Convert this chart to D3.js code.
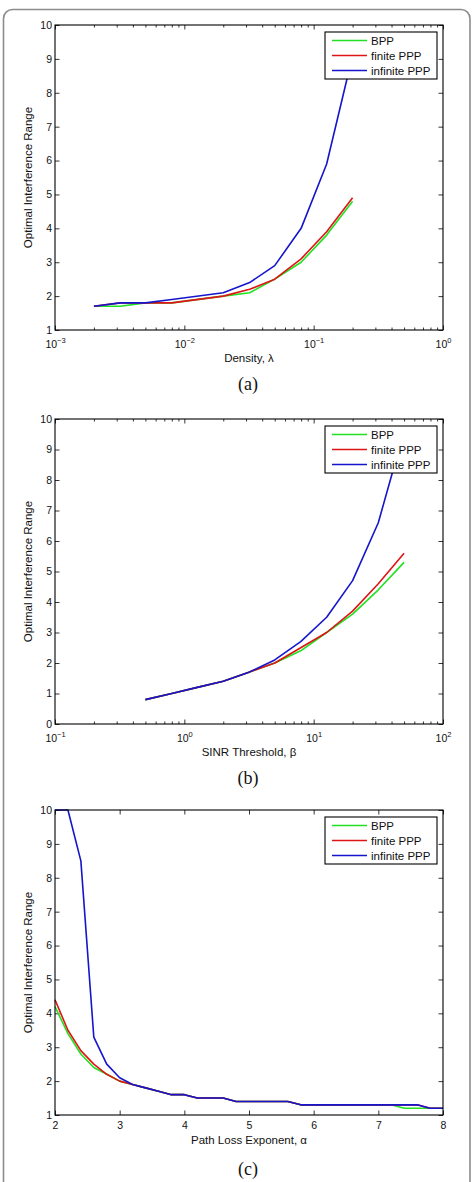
<!DOCTYPE html>
<html>
<head>
<meta charset="utf-8">
<script src="https://cdn.jsdelivr.net/npm/d3@7"></script>
<style>
  body { margin: 0; background: #ffffff; }
</style>
</head>
<body>
<script>
// series names and colours (shared by all three panels)
const seriesNames = ['BPP', 'finite PPP', 'infinite PPP'];
const seriesColors = ['#22e022', '#dd1515', '#1515cc'];

// (a) density sweep
const densityX = [0.002, 0.0032, 0.005, 0.008, 0.02, 0.032, 0.05, 0.08, 0.126, 0.2];
const densityBPP = [1.7, 1.7, 1.8, 1.8, 2.0, 2.1, 2.5, 3.0, 3.8, 4.8];
const densityFinite = [1.7, 1.8, 1.8, 1.8, 2.0, 2.2, 2.5, 3.1, 3.9, 4.9];
const densityInfinite = [1.7, 1.8, 1.8, 1.9, 2.1, 2.4, 2.9, 4.0, 5.9, 9.1];

// (b) SINR threshold sweep
const sinrX = [0.5, 0.8, 1.26, 2, 3.16, 5, 7.94, 12.6, 20, 31.6, 50];
const sinrBPP = [0.8, 1.0, 1.2, 1.4, 1.7, 2.0, 2.4, 3.0, 3.6, 4.4, 5.3];
const sinrFinite = [0.8, 1.0, 1.2, 1.4, 1.7, 2.0, 2.5, 3.0, 3.7, 4.6, 5.6];
const sinrInfinite = [0.8, 1.0, 1.2, 1.4, 1.7, 2.1, 2.7, 3.5, 4.7, 6.6, 9.6];

// (c) path loss exponent sweep
const pathX = [2.0, 2.2, 2.4, 2.6, 2.8, 3.0, 3.2, 3.4, 3.6, 3.8, 4.0, 4.2, 4.4, 4.6, 4.8, 5.0,
    5.2, 5.4, 5.6, 5.8, 6.0, 6.2, 6.4, 6.6, 6.8, 7.0, 7.2, 7.4, 7.6, 7.8, 8.0];
const pathBPP = [4.2, 3.4, 2.8, 2.4, 2.2, 2.0, 1.9, 1.8, 1.7, 1.6, 1.6, 1.5, 1.5, 1.5, 1.4, 1.4,
    1.4, 1.4, 1.4, 1.3, 1.3, 1.3, 1.3, 1.3, 1.3, 1.3, 1.3, 1.2, 1.2, 1.2, 1.2];
const pathFinite = [4.4, 3.5, 2.9, 2.5, 2.2, 2.0, 1.9, 1.8, 1.7, 1.6, 1.6, 1.5, 1.5, 1.5, 1.4, 1.4,
    1.4, 1.4, 1.4, 1.3, 1.3, 1.3, 1.3, 1.3, 1.3, 1.3, 1.3, 1.3, 1.3, 1.2, 1.2];
const pathInfinite = [10, 10, 8.5, 3.3, 2.5, 2.1, 1.9, 1.8, 1.7, 1.6, 1.6, 1.5, 1.5, 1.5, 1.4, 1.4,
    1.4, 1.4, 1.4, 1.3, 1.3, 1.3, 1.3, 1.3, 1.3, 1.3, 1.3, 1.3, 1.3, 1.2, 1.2];

const sansFont = '\'Liberation Sans\', Arial, sans-serif';
const serifFont = '\'Liberation Serif\', \'DejaVu Serif\', serif';

const svg = d3.select('body')
    .append('svg')
    .attr('width', 472)
    .attr('height', 1182)
    .style('display', 'block')
    .style('background-color', '#ffffff');

// outer rounded frame
svg.append('rect')
    .attr('x', 3.5)
    .attr('y', 9.5)
    .attr('width', 466.5)
    .attr('height', 1200)
    .attr('rx', 9)
    .attr('fill', 'none')
    .attr('stroke', '#8c8c8c')
    .attr('stroke-width', 1.6);

const left = 55, right = 443;

const panels = [
    {
        id: 'a', top: 25, bottom: 330, log: true,
        x: d3.scaleLog().domain([1e-3, 1]).range([left, right]),
        yDomain: [1, 10], yTicks: d3.range(1, 11),
        xs: densityX, ys: [densityBPP, densityFinite, densityInfinite],
        xLabel: 'Density, λ', xLabelGap: 32
    },
    {
        id: 'b', top: 419, bottom: 724, log: true,
        x: d3.scaleLog().domain([0.1, 100]).range([left, right]),
        yDomain: [0, 10], yTicks: d3.range(0, 11),
        xs: sinrX, ys: [sinrBPP, sinrFinite, sinrInfinite],
        xLabel: 'SINR Threshold, β', xLabelGap: 32
    },
    {
        id: 'c', top: 810, bottom: 1115, log: false,
        x: d3.scaleLinear().domain([2, 8]).range([left, right]),
        yDomain: [1, 10], yTicks: d3.range(1, 11),
        xs: pathX, ys: [pathBPP, pathFinite, pathInfinite],
        xLabel: 'Path Loss Exponent, α', xLabelGap: 29
    }
];

function styleAxis(a) {
    a.select('.domain').remove();
    a.selectAll('line')
        .attr('stroke', '#000000')
        .attr('stroke-width', 0.8);
    a.selectAll('text')
        .attr('font-family', sansFont)
        .attr('font-size', 10.5)
        .attr('fill', '#111111');
    return a;
}

panels.forEach(p => {
    const x = p.x;
    const y = d3.scaleLinear().domain(p.yDomain).range([p.bottom, p.top]);
    const g = svg.append('g');

    // clip region for the curves
    svg.append('defs').append('clipPath')
        .attr('id', 'clip-' + p.id)
        .append('rect')
        .attr('x', left - 1)
        .attr('y', p.top - 1)
        .attr('width', right - left + 2)
        .attr('height', p.bottom - p.top + 2);

    // ticks
    let majors, minors = [];
    if (p.log) {
        const all = x.ticks();
        majors = all.filter(v => Math.abs(Math.log10(v) - Math.round(Math.log10(v))) < 1e-9);
        minors = all.filter(v => !majors.includes(v));
    } else {
        majors = d3.range(2, 9);
    }

    const bottomAxis = styleAxis(g.append('g')
        .attr('transform', `translate(0,${p.bottom})`)
        .call(d3.axisBottom(x).tickValues(majors).tickSize(-4.5).tickPadding(p.log ? 10.5 : 7)
            .tickFormat(p.log ? () => '' : d3.format('d'))));
    styleAxis(g.append('g')
        .attr('transform', `translate(0,${p.top})`)
        .call(d3.axisTop(x).tickValues(majors).tickSize(-4.5).tickFormat(() => '')));
    if (minors.length) {
        styleAxis(g.append('g')
            .attr('transform', `translate(0,${p.bottom})`)
            .call(d3.axisBottom(x).tickValues(minors).tickSize(-2.5).tickFormat(() => '')));
        styleAxis(g.append('g')
            .attr('transform', `translate(0,${p.top})`)
            .call(d3.axisTop(x).tickValues(minors).tickSize(-2.5).tickFormat(() => '')));
    }
    if (p.log) {
        // 10 with superscript exponent
        bottomAxis.selectAll('.tick text').each(function (d) {
            const t = d3.select(this).text(null);
            const e = Math.round(Math.log10(d));
            t.append('tspan').text('10');
            t.append('tspan')
                .attr('dy', '-0.6em')
                .attr('font-size', 7.5)
                .text(e < 0 ? '−' + (-e) : String(e));
        });
    }
    styleAxis(g.append('g')
        .attr('transform', `translate(${left},0)`)
        .call(d3.axisLeft(y).tickValues(p.yTicks).tickSize(-4.5).tickPadding(3).tickFormat(d3.format('d'))));
    styleAxis(g.append('g')
        .attr('transform', `translate(${right},0)`)
        .call(d3.axisRight(y).tickValues(p.yTicks).tickSize(-4.5).tickFormat(() => '')));

    // curves
    const line = d3.line()
        .x(d => x(d[0]))
        .y(d => y(d[1]));
    const curves = g.append('g').attr('clip-path', `url(#clip-${p.id})`);
    p.ys.forEach((ys, i) => {
        curves.append('path')
            .datum(d3.zip(p.xs, ys))
            .attr('d', line)
            .attr('fill', 'none')
            .attr('stroke', seriesColors[i])
            .attr('stroke-width', 1.6)
            .attr('stroke-linejoin', 'round');
    });

    // plot box
    g.append('rect')
        .attr('x', left)
        .attr('y', p.top)
        .attr('width', right - left)
        .attr('height', p.bottom - p.top)
        .attr('fill', 'none')
        .attr('stroke', '#000000')
        .attr('stroke-width', 1.1);

    // legend
    const lg = g.append('g').attr('transform', `translate(325,${p.top + 7})`);
    lg.append('rect')
        .attr('width', 112)
        .attr('height', 47)
        .attr('fill', '#ffffff')
        .attr('stroke', '#000000')
        .attr('stroke-width', 1.1);
    seriesNames.forEach((name, i) => {
        lg.append('line')
            .attr('x1', 7)
            .attr('x2', 42)
            .attr('y1', 8.5 + 15 * i)
            .attr('y2', 8.5 + 15 * i)
            .attr('stroke', seriesColors[i])
            .attr('stroke-width', 1.6);
        lg.append('text')
            .text(name)
            .attr('x', 46)
            .attr('y', 12.5 + 15 * i)
            .attr('font-family', sansFont)
            .attr('font-size', 11.5)
            .attr('fill', '#111111');
    });

    // axis titles
    g.append('text')
        .text('Optimal Interference Range')
        .attr('transform', `translate(32,${(p.top + p.bottom) / 2}) rotate(-90)`)
        .attr('text-anchor', 'middle')
        .attr('font-family', sansFont)
        .attr('font-size', 11.5)
        .attr('fill', '#111111');
    g.append('text')
        .text(p.xLabel)
        .attr('x', (left + right) / 2)
        .attr('y', p.bottom + p.xLabelGap)
        .attr('text-anchor', 'middle')
        .attr('font-family', sansFont)
        .attr('font-size', 11.5)
        .attr('fill', '#111111');

    // sub-figure tag
    g.append('text')
        .text(`(${p.id})`)
        .attr('x', 248)
        .attr('y', p.bottom + 60)
        .attr('text-anchor', 'middle')
        .attr('font-family', serifFont)
        .attr('font-size', 18)
        .attr('fill', '#111111');
});
</script>
</body>
</html>
